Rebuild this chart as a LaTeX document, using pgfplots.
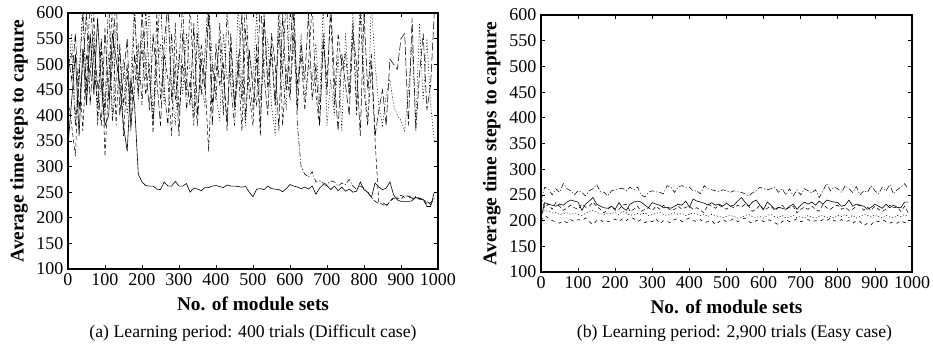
\documentclass[border=0pt]{standalone}
\usepackage{pgfplots}
\pgfplotsset{compat=1.18}
\usepackage{fontspec}
\setmainfont{Liberation Serif}
\pgfplotsset{
  base/.style={
    scale only axis,
    xmin=0, xmax=1000, ymin=100, ymax=600,
    xtick={0,100,...,1000}, ytick={100,150,...,600},
    axis line style={line width=1.1pt},
    major tick style={line width=0.6pt, black},
    major tick length=3pt,
    /pgf/number format/assume math mode=true,
    /pgf/number format/1000 sep={},
    tick label style={font=\fontsize{13.5}{13.5}\selectfont},
    xlabel={No. of module sets},
    ylabel={Average time steps to capture},
    every axis x label/.style={at={(axis description cs:0.5,-0.137)}, anchor=center, font=\bfseries\fontsize{14.5}{15}\selectfont},
    every axis y label/.style={at={(axis description cs:-0.1324,0.5)}, anchor=center, rotate=90, font=\bfseries\fontsize{14.5}{15}\selectfont},
    clip=true,
  },
  s1/.style={black, line width=0.45pt, solid},
  s2/.style={black, line width=0.4pt, dash pattern=on 4pt off 1.5pt on 0.8pt off 1.5pt},
  s3/.style={black, line width=0.4pt, dash pattern=on 3pt off 2pt},
  s4/.style={black, line width=0.4pt, dash pattern=on 0.8pt off 1.5pt},
  s5/.style={black, line width=0.4pt, dash pattern=on 6pt off 2pt},
  r5/.style={black, line width=0.45pt, dash pattern=on 2.5pt off 3pt},
}
\begin{document}
\begin{tikzpicture}
\path[use as bounding box] (0,0) rectangle (699.75pt,-268.5pt);
\begin{axis}[base, name=left, at={(51pt,-9.75pt)}, anchor=north west, width=277.5pt, height=192pt]
\addplot[s4] table[row sep=\\, x expr=\coordindex*10, y index=0] {460\\560\\400\\480\\620\\430\\500\\560\\380\\470\\410\\520\\390\\580\\450\\510\\400\\480\\620\\430\\560\\470\\620\\380\\490\\540\\420\\640\\460\\380\\520\\440\\560\\480\\400\\600\\460\\420\\620\\510\\440\\390\\560\\470\\500\\410\\620\\450\\380\\520\\470\\600\\430\\500\\550\\420\\360\\640\\480\\410\\620\\520\\450\\560\\430\\500\\470\\540\\420\\620\\380\\470\\400\\520\\370\\560\\440\\600\\420\\640\\480\\390\\620\\500\\420\\380\\440\\470\\420\\400\\390\\370\\450\\540\\380\\580\\430\\550\\420\\350\\};
\addplot[s5] table[row sep=\\, x expr=\coordindex*10, y index=0] {520\\470\\560\\410\\500\\600\\420\\540\\460\\380\\570\\430\\500\\640\\400\\480\\550\\370\\520\\440\\600\\500\\410\\560\\470\\380\\540\\620\\430\\500\\360\\560\\470\\420\\580\\400\\510\\450\\600\\380\\540\\460\\500\\370\\560\\420\\480\\600\\390\\530\\450\\420\\640\\480\\400\\560\\500\\370\\600\\450\\520\\640\\410\\540\\470\\600\\430\\500\\380\\560\\440\\620\\470\\370\\520\\460\\400\\560\\500\\360\\600\\450\\520\\360\\410\\450\\380\\510\\500\\490\\550\\560\\380\\590\\370\\480\\560\\410\\460\\600\\};
\addplot[s3] table[row sep=\\, x expr=\coordindex*10, y index=0] {430\\380\\320\\500\\370\\520\\480\\600\\390\\540\\320\\470\\620\\380\\540\\360\\480\\420\\600\\470\\530\\440\\500\\365\\600\\430\\520\\470\\360\\580\\400\\500\\440\\620\\460\\380\\540\\470\\330\\500\\430\\580\\470\\390\\540\\420\\500\\370\\570\\440\\380\\520\\360\\590\\470\\540\\420\\600\\380\\490\\430\\560\\460\\520\\410\\500\\620\\440\\380\\540\\470\\600\\420\\560\\490\\520\\440\\580\\400\\600\\450\\380\\500\\350\\230\\226\\222\\232\\240\\238\\236\\244\\242\\236\\240\\238\\236\\228\\230\\236\\};
\addplot[s2] table[row sep=\\, x expr=\coordindex*10, y index=0] {500\\520\\380\\470\\600\\450\\640\\500\\420\\550\\400\\640\\390\\470\\530\\420\\500\\380\\450\\540\\420\\610\\470\\390\\520\\640\\450\\380\\560\\430\\500\\620\\410\\470\\380\\560\\440\\520\\640\\420\\480\\550\\400\\610\\460\\380\\520\\430\\640\\470\\410\\540\\380\\600\\450\\520\\420\\560\\480\\640\\440\\600\\380\\300\\285\\280\\290\\270\\272\\268\\265\\272\\270\\262\\268\\265\\275\\262\\255\\262\\258\\250\\240\\232\\228\\230\\225\\232\\238\\240\\244\\240\\244\\238\\242\\238\\235\\232\\226\\238\\};
\addplot[s1] table[row sep=\\, x expr=\coordindex*10, y index=0] {340\\430\\520\\360\\530\\420\\560\\440\\590\\460\\380\\400\\560\\510\\460\\380\\330\\470\\420\\285\\270\\263\\262\\262\\256\\255\\270\\262\\262\\271\\262\\262\\267\\250\\258\\256\\253\\259\\259\\262\\263\\261\\259\\264\\262\\262\\261\\260\\261\\250\\241\\256\\257\\255\\262\\257\\256\\255\\251\\257\\265\\262\\260\\257\\260\\256\\262\\246\\258\\265\\263\\255\\262\\253\\260\\252\\256\\250\\252\\270\\255\\250\\240\\268\\260\\255\\258\\270\\245\\235\\232\\232\\232\\233\\240\\236\\236\\222\\222\\250\\};
\end{axis}
\begin{axis}[base, name=right, at={(405.75pt,-11.25pt)}, anchor=north west, width=278.25pt, height=192.75pt]
\addplot[s2] table[row sep=\\, x expr=\coordindex*10, y index=0] {240\\265\\262\\250\\262\\255\\272\\262\\258\\250\\258\\255\\248\\258\\262\\270\\256\\255\\248\\258\\260\\262\\263\\258\\265\\260\\265\\250\\246\\255\\258\\256\\255\\252\\268\\265\\255\\266\\268\\265\\265\\258\\258\\252\\268\\262\\260\\258\\256\\260\\258\\255\\258\\256\\255\\252\\248\\254\\258\\265\\262\\260\\262\\265\\255\\262\\250\\262\\248\\260\\250\\262\\258\\254\\260\\245\\258\\272\\258\\265\\262\\255\\268\\262\\255\\266\\250\\258\\255\\268\\258\\252\\265\\258\\270\\252\\260\\265\\272\\262\\};
\addplot[s3] table[row sep=\\, x expr=\coordindex*10, y index=0] {245\\225\\232\\222\\235\\228\\220\\224\\230\\225\\222\\232\\226\\228\\236\\228\\222\\215\\222\\228\\220\\222\\230\\232\\218\\222\\228\\218\\222\\225\\220\\228\\222\\230\\225\\220\\222\\228\\222\\226\\228\\222\\225\\220\\215\\232\\228\\224\\230\\226\\222\\228\\225\\230\\226\\232\\228\\218\\222\\230\\220\\224\\228\\220\\225\\230\\222\\226\\228\\215\\222\\226\\222\\228\\222\\218\\232\\225\\222\\228\\230\\222\\226\\220\\222\\228\\230\\220\\226\\220\\228\\222\\218\\222\\230\\225\\226\\218\\228\\215\\};
\addplot[s4] table[row sep=\\, x expr=\coordindex*10, y index=0] {215\\220\\218\\215\\216\\212\\213\\215\\212\\214\\212\\210\\214\\218\\220\\216\\213\\212\\215\\214\\216\\212\\218\\215\\210\\212\\214\\212\\215\\210\\212\\214\\216\\212\\210\\213\\215\\212\\214\\210\\212\\215\\213\\210\\212\\208\\212\\210\\208\\206\\208\\210\\208\\205\\206\\210\\212\\208\\206\\208\\205\\210\\212\\208\\206\\210\\205\\207\\210\\206\\208\\205\\210\\206\\205\\208\\210\\206\\208\\205\\210\\208\\212\\206\\210\\205\\208\\212\\210\\207\\212\\208\\205\\210\\207\\205\\210\\208\\212\\208\\};
\addplot[r5] table[row sep=\\, x expr=\coordindex*10, y index=0] {200\\210\\205\\200\\198\\195\\200\\196\\202\\198\\202\\200\\205\\198\\192\\200\\202\\196\\198\\200\\203\\198\\204\\200\\206\\204\\198\\202\\196\\200\\198\\204\\194\\200\\198\\196\\202\\204\\198\\202\\205\\200\\198\\202\\196\\198\\200\\192\\198\\202\\198\\200\\204\\198\\202\\205\\198\\195\\200\\202\\198\\202\\200\\196\\192\\198\\202\\198\\200\\204\\198\\200\\202\\198\\200\\198\\202\\200\\205\\200\\198\\202\\198\\200\\195\\200\\198\\190\\195\\192\\200\\198\\202\\198\\195\\198\\195\\200\\196\\198\\};
\addplot[s1] table[row sep=\\, x expr=\coordindex*10, y index=0] {205\\235\\232\\230\\228\\232\\230\\236\\240\\238\\236\\220\\232\\238\\245\\232\\228\\225\\224\\228\\222\\235\\225\\220\\232\\236\\238\\236\\230\\225\\235\\232\\230\\225\\226\\224\\228\\232\\230\\238\\226\\242\\238\\236\\234\\230\\235\\230\\232\\228\\234\\228\\230\\238\\245\\236\\228\\236\\240\\230\\222\\236\\230\\222\\226\\224\\222\\228\\232\\222\\230\\236\\232\\236\\230\\238\\232\\240\\238\\236\\235\\228\\230\\240\\228\\232\\230\\228\\222\\226\\232\\228\\224\\232\\225\\230\\226\\225\\236\\236\\};
\end{axis}
\node[anchor=center, font=\fontsize{13.3}{13.3}\selectfont] at ([yshift=-48pt]left.south) {(a) Learning period: 400 trials (Difficult case)};
\node[anchor=center, font=\fontsize{13.3}{13.3}\selectfont] at ([xshift=6pt,yshift=-45.75pt]right.south) {(b) Learning period: 2,900 trials (Easy case)};
\end{tikzpicture}
\end{document}
